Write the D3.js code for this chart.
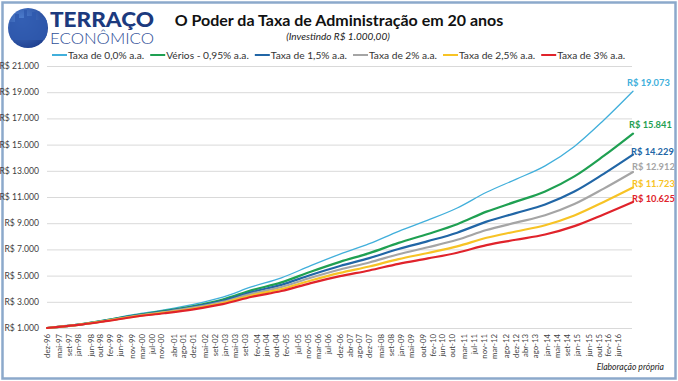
<!DOCTYPE html>
<html>
<head>
<meta charset="utf-8">
<script src="https://cdn.jsdelivr.net/npm/d3@7"></script>
<style>
  body { margin: 0; background: #fff; }
  text { font-family: Lato, "Open Sans", sans-serif; }
</style>
</head>
<body>
<svg id="chart"></svg>
<script>
// meses e rótulos do eixo x (como no gráfico original)
const months = ['jan', 'fev', 'mar', 'abr', 'mai', 'jun', 'jul', 'ago', 'set', 'out', 'nov', 'dez'];
const tickLabels = ['dez-96', 'mai-97', 'set-97', 'jan-98', 'jun-98', 'out-98', 'fev-99', 'jun-99', 'nov-99', 'mar-00',
    'jul-00', 'nov-00', 'abr-01', 'ago-01', 'dez-01', 'mai-02', 'set-02', 'jan-03', 'mai-03', 'set-03',
    'fev-04', 'jun-04', 'out-04', 'fev-05', 'jul-05', 'nov-05', 'mar-06', 'jul-06', 'dez-06', 'abr-07',
    'ago-07', 'dez-07', 'mai-08', 'set-08', 'jan-09', 'mai-09', 'out-09', 'fev-10', 'jun-10', 'out-10',
    'mar-11', 'jul-11', 'nov-11', 'mar-12', 'ago-12', 'dez-12', 'abr-13', 'ago-13', 'jan-14', 'mai-14',
    'set-14', 'jan-15', 'jun-15', 'out-15', 'fev-16', 'jun-16'];

// pontos dos dados: fim de cada ano
const dates = ['dez-96', 'dez-97', 'dez-98', 'dez-99', 'dez-00', 'dez-01', 'dez-02', 'dez-03', 'dez-04', 'dez-05',
    'dez-06', 'dez-07', 'dez-08', 'dez-09', 'dez-10', 'dez-11', 'dez-12', 'dez-13', 'dez-14', 'dez-15', 'dez-16'];

const seriesNames = ['Taxa de 0,0% a.a.', 'Vérios - 0,95% a.a.', 'Taxa de 1,5% a.a.', 'Taxa de 2% a.a.', 'Taxa de 2,5% a.a.', 'Taxa de 3% a.a.'];

const taxa0 = [1000, 1250, 1610, 2030, 2390, 2810, 3360, 4150, 4830, 5760, 6640, 7440, 8380, 9230, 10160, 11360, 12350, 13380, 14860, 16860, 19073];
const verios = [1000, 1238, 1580, 1974, 2303, 2682, 3178, 3889, 4484, 5298, 6051, 6717, 7496, 8180, 8921, 9882, 10644, 11425, 12572, 14132, 15841];
const taxa15 = [1000, 1232, 1564, 1943, 2254, 2612, 3077, 3746, 4296, 5049, 5735, 6333, 7029, 7630, 8277, 9120, 9770, 10431, 11417, 12765, 14229];
const taxa2 = [1000, 1226, 1548, 1915, 2211, 2549, 2989, 3620, 4132, 4833, 5464, 6004, 6632, 7163, 7733, 8479, 9040, 9605, 10462, 11640, 12912];
const taxa25 = [1000, 1220, 1534, 1887, 2168, 2488, 2904, 3500, 3976, 4627, 5206, 5693, 6258, 6727, 7227, 7887, 8368, 8848, 9590, 10620, 11723];
const taxa3 = [1000, 1214, 1519, 1859, 2126, 2428, 2819, 3382, 3822, 4427, 4956, 5393, 5899, 6310, 6746, 7325, 7734, 8137, 8777, 9671, 10625];

const yTicks = [1000, 3000, 5000, 7000, 9000, 11000, 13000, 15000, 17000, 19000, 21000];

const allSeries = [taxa0, verios, taxa15, taxa2, taxa25, taxa3];
const colors = ['#41AFDB', '#1FA052', '#2166A6', '#A5A5A5', '#F7C325', '#E0232B'];
const widths = [1.3, 2.2, 2.2, 2.2, 2.2, 2.2];
const labelDx = [-6, -4, -2, -1, -1, -1];
const labelDy = [-5, -6, 0.5, -1.5, -1, 0.5];

const W = 678, H = 381;
const svg = d3.select('#chart').attr('width', W).attr('height', H);

const monthIndex = lbl => {
    const [mm, yy] = lbl.split('-');
    const year = +yy < 50 ? 2000 + (+yy) : 1900 + (+yy);
    return (year - 1996) * 12 + months.indexOf(mm) - 11;
};

const xScale = d3.scaleLinear().domain([0, monthIndex('dez-16')]).range([47, 633]);
const yScale = d3.scaleLinear().domain([1000, 21000]).range([328, 66]);

const br = d3.formatLocale({ decimal: ',', thousands: '.', grouping: [3], currency: ['R$ ', ''] });
const fmt = br.format(',d');

// moldura
svg.append('rect').attr('x', 2.5).attr('y', 2.5).attr('width', W - 5).attr('height', H - 5)
    .attr('fill', '#fff').attr('stroke', '#8CA9CB').attr('stroke-width', 2.5);

// logo
const logo = svg.append('g');
const grad = svg.append('defs').append('radialGradient').attr('id', 'lg').attr('cx', '35%').attr('cy', '30%').attr('r', '80%');
grad.append('stop').attr('offset', '0%').attr('stop-color', '#4E7FD0');
grad.append('stop').attr('offset', '100%').attr('stop-color', '#1C3C8C');
svg.select('defs').append('clipPath').attr('id', 'lc').append('circle').attr('cx', 28).attr('cy', 28).attr('r', 20);
logo.append('circle').attr('cx', 28).attr('cy', 28).attr('r', 20).attr('fill', 'url(#lg)');
const city = logo.append('g').attr('clip-path', 'url(#lc)');
[[10, 22, 5], [15, 14, 4], [19, 18, 5], [24, 10, 3], [27, 16, 5], [32, 12, 4], [36, 20, 5], [41, 17, 6]]
    .forEach(([x, y, w]) => city.append('rect').attr('x', x).attr('y', y).attr('width', w).attr('height', 40 - y)
        .attr('fill', '#2F59AE').attr('opacity', 0.85));
logo.append('text').attr('x', 50).attr('y', 27).attr('textLength', 104).attr('lengthAdjust', 'spacingAndGlyphs')
    .attr('font-size', 21).attr('font-weight', 900).attr('fill', '#1C3A7E').text('TERRAÇO');
logo.append('text').attr('x', 50).attr('y', 44).attr('textLength', 104).attr('lengthAdjust', 'spacingAndGlyphs')
    .attr('font-size', 16).attr('font-weight', 300).attr('fill', '#2F4F98').text('ECONÔMICO');

// títulos
svg.append('text').attr('x', 339).attr('y', 26).attr('text-anchor', 'middle')
    .attr('font-size', 16).attr('font-weight', 'bold').attr('fill', '#111')
    .text('O Poder da Taxa de Administração em 20 anos');
svg.append('text').attr('x', 338).attr('y', 40).attr('text-anchor', 'middle')
    .attr('font-size', 10).attr('font-style', 'italic').attr('fill', '#222')
    .text('(Investindo R$ 1.000,00)');

// legenda
let lx = 52;
seriesNames.forEach((name, i) => {
    const g = svg.append('g');
    g.append('line').attr('x1', lx).attr('x2', lx + 15).attr('y1', 55).attr('y2', 55)
        .attr('stroke', colors[i]).attr('stroke-width', 2);
    const t = g.append('text').attr('x', lx + 16).attr('y', 58.5).attr('font-size', 10.2).attr('fill', '#333').text(name);
    lx += 16 + t.node().getComputedTextLength() + 6;
});

// grade e eixo y
svg.append('g').selectAll('line').data(yTicks).join('line')
    .attr('x1', 47).attr('x2', 632)
    .attr('y1', d => yScale(d) + 0.5).attr('y2', d => yScale(d) + 0.5)
    .attr('stroke', '#D9D9D9').attr('stroke-width', 1);
svg.append('g').selectAll('text').data(yTicks).join('text')
    .attr('x', 39).attr('y', d => yScale(d)).attr('dy', '0.35em')
    .attr('text-anchor', 'end').attr('font-size', 8.6).attr('fill', '#404040')
    .text(d => 'R$ ' + fmt(d));

// eixo x
svg.append('g').selectAll('text').data(tickLabels).join('text')
    .attr('transform', d => `translate(${xScale(monthIndex(d))},334) rotate(-90)`)
    .attr('dy', '0.35em').attr('text-anchor', 'end')
    .attr('font-size', 7.8).attr('fill', '#404040')
    .text(d => d);

// linhas
const line = d3.line()
    .x((d, i) => xScale(monthIndex(dates[i])))
    .y(d => yScale(d))
    .curve(d3.curveMonotoneX);

allSeries.forEach((s, i) => {
    svg.append('path').datum(s).attr('d', line)
        .attr('fill', 'none').attr('stroke', colors[i]).attr('stroke-width', widths[i])
        .attr('stroke-linejoin', 'round').attr('stroke-linecap', 'round');
});

// rótulos finais
allSeries.forEach((s, i) => {
    const last = s[s.length - 1];
    svg.append('text')
        .attr('x', xScale(monthIndex(dates[dates.length - 1])) + labelDx[i])
        .attr('y', yScale(last) + labelDy[i])
        .attr('font-size', 9.3).attr('font-weight', 'bold').attr('fill', colors[i])
        .text('R$ ' + fmt(last));
});

svg.append('text').attr('x', 664).attr('y', 370).attr('text-anchor', 'end')
    .attr('font-size', 8.6).attr('font-style', 'italic').attr('fill', '#222')
    .text('Elaboração própria');
</script>
</body>
</html>
